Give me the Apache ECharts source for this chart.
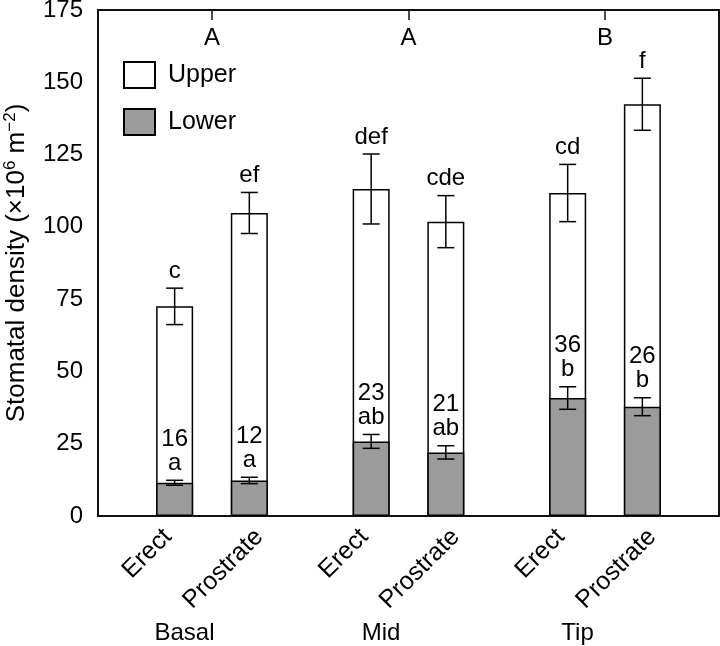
<!DOCTYPE html>
<html>
<head>
<meta charset="utf-8">
<script src="https://cdn.jsdelivr.net/npm/echarts@6/dist/echarts.min.js"></script>
<style>
html,body{margin:0;padding:0;background:#fff;}
#chart{width:720px;height:646px;}
</style>
</head>
<body>
<div id="chart"></div>
<script>
// ---- data ----
var groups = ['Basal', 'Mid', 'Tip'];
var groupLetters = ['A', 'A', 'B'];
var habits = ['Erect', 'Prostrate'];
// order: Basal-Erect, Basal-Prostrate, Mid-Erect, Mid-Prostrate, Tip-Erect, Tip-Prostrate
var lowerValues = [11.5, 12.3, 25.8, 22.0, 40.8, 37.8];
var lowerErrors = [0.85, 1.1, 2.4, 2.3, 3.9, 3.1];
var upperValues = [61.0, 92.5, 87.3, 79.8, 70.9, 104.6];
var totalErrors = [6.3, 7.1, 12.1, 9.0, 9.9, 9.0];
var totalLetters = ['c', 'ef', 'def', 'cde', 'cd', 'f'];
var lowerPercents = ['16', '12', '23', '21', '36', '26'];
var lowerLetters = ['a', 'a', 'ab', 'ab', 'b', 'b'];
var yTicks = [0, 25, 50, 75, 100, 125, 150, 175];

// ---- layout (not data) ----
var FONT = "'Liberation Sans', Arial, Helvetica, sans-serif";
var FS = 24;
var barOffset = 0.19;
var labelShift = [-0.035, 0.05];
var groupLabelShift = -0.14;

var xPos = [], labelPos = [], labelMap = {};
for (var g = 0; g < groups.length; g++) {
  for (var h = 0; h < habits.length; h++) {
    var x = g + 1 + (h === 0 ? -barOffset : barOffset);
    xPos.push(x);
    var lx = +(x + labelShift[h]).toFixed(4);
    labelPos.push(lx);
    labelMap[lx.toFixed(4)] = habits[h];
  }
}
var groupPos = [], groupMap = {};
groups.forEach(function (name, i) {
  var v = +(i + 1 + groupLabelShift).toFixed(4);
  groupPos.push(v);
  groupMap[v.toFixed(4)] = name;
});

// white bar = whole height (upper + lower); grey bar (lower) drawn over it
var totalData = xPos.map(function (x, i) { return [x, lowerValues[i] + upperValues[i]]; });
var lowerData = xPos.map(function (x, i) { return [x, lowerValues[i]]; });
var errData = [];
xPos.forEach(function (x, i) {
  var t = lowerValues[i] + upperValues[i];
  errData.push([x, t - totalErrors[i], t + totalErrors[i], i, 0]);
  errData.push([x, lowerValues[i] - lowerErrors[i], lowerValues[i] + lowerErrors[i], i, 1]);
});

var chart = echarts.init(document.getElementById('chart'), null, {renderer: 'canvas'});
var XMIN = 0.42, XMAX = 3.58;

chart.setOption({
  animation: false,
  backgroundColor: '#fff',
  textStyle: {fontFamily: FONT},
  grid: {left: 98, right: 1, top: 10, bottom: 130, containLabel: false, outerBoundsMode: 'none',
         show: true, borderColor: '#111', borderWidth: 2, backgroundColor: 'transparent'},
  legend: {
    data: ['Upper', 'Lower'],
    orient: 'vertical',
    left: 123, top: 61, padding: 0,
    itemWidth: 31, itemHeight: 26, itemGap: 19,
    icon: 'rect',
    textStyle: {fontSize: 25, color: '#000', fontFamily: FONT, padding: [0, 0, 0, 8]},
    selectedMode: false
  },
  xAxis: [
    {
      type: 'value', position: 'bottom', min: XMIN, max: XMAX,
      axisLine: {show: false}, axisTick: {show: false}, splitLine: {show: false},
      axisLabel: {
        customValues: labelPos, rotate: 45, margin: 17,
        fontSize: 25, color: '#000', fontFamily: FONT,
        formatter: function (v) { return labelMap[(+v).toFixed(4)] || ''; }
      }
    },
    {
      type: 'value', position: 'top', min: XMIN, max: XMAX,
      axisLine: {show: false}, splitLine: {show: false},
      axisTick: {show: true, inside: true, length: 10, customValues: [1, 2, 3], lineStyle: {color: '#111', width: 1.5}},
      axisLabel: {
        inside: true, margin: 16, customValues: [1, 2, 3],
        fontSize: FS, color: '#000', fontFamily: FONT,
        formatter: function (v) { return groupLetters[Math.round(v) - 1] || ''; }
      }
    },
    {
      type: 'value', position: 'bottom', min: XMIN, max: XMAX,
      axisLine: {show: false}, axisTick: {show: false}, splitLine: {show: false},
      axisLabel: {
        customValues: groupPos, margin: 105,
        fontSize: FS, color: '#000', fontFamily: FONT,
        formatter: function (v) { return groupMap[(+v).toFixed(4)] || ''; }
      }
    }
  ],
  yAxis: {
    type: 'value', min: 0, max: 175, interval: 25,
    axisLine: {show: false}, axisTick: {show: false}, splitLine: {show: false},
    axisLabel: {
      customValues: yTicks, margin: 15, fontSize: FS, color: '#000', fontFamily: FONT
    },
    name: 'Stomatal density (×10{sup|6} m{sup|−2})',
    nameLocation: 'middle', nameGap: 67, nameRotate: 90,
    nameTextStyle: {
      fontSize: 26, color: '#000', fontFamily: FONT, lineHeight: 29,
      rich: {sup: {fontSize: 17, verticalAlign: 'top', lineHeight: 29, color: '#000', fontFamily: FONT}}
    }
  },
  series: [
    {
      name: 'Upper', type: 'bar', xAxisIndex: 0,
      barWidth: 37, barGap: '-100%', data: totalData,
      itemStyle: {color: '#ffffff', borderColor: '#000', borderWidth: 1.5}
    },
    {
      name: 'Lower', type: 'bar', xAxisIndex: 0,
      barWidth: 37, barGap: '-100%', data: lowerData,
      itemStyle: {color: '#9b9b9b', borderColor: '#000', borderWidth: 1.5}
    },
    {
      name: 'err', type: 'custom', xAxisIndex: 0, z: 5,
      data: errData,
      renderItem: function (params, api) {
        var x = api.value(0), lo = api.value(1), hi = api.value(2);
        var idx = api.value(3), kind = api.value(4);
        var pHi = api.coord([x, hi]), pLo = api.coord([x, lo]);
        var hw = 8.5;
        var ls = {stroke: '#000', lineWidth: 1.5};
        var txt = kind === 0 ? totalLetters[idx] : (lowerPercents[idx] + '\n' + lowerLetters[idx]);
        return {
          type: 'group',
          children: [
            {type: 'line', shape: {x1: pHi[0], y1: pHi[1], x2: pLo[0], y2: pLo[1]}, style: ls},
            {type: 'line', shape: {x1: pHi[0] - hw, y1: pHi[1], x2: pHi[0] + hw, y2: pHi[1]}, style: ls},
            {type: 'line', shape: {x1: pLo[0] - hw, y1: pLo[1], x2: pLo[0] + hw, y2: pLo[1]}, style: ls},
            {type: 'text', style: {
              text: txt, x: pHi[0], y: pHi[1] - 5,
              align: 'center', verticalAlign: 'bottom',
              font: FS + 'px ' + FONT, lineHeight: 24, fill: '#000'
            }}
          ]
        };
      }
    }
  ]
});
</script>
</body>
</html>
